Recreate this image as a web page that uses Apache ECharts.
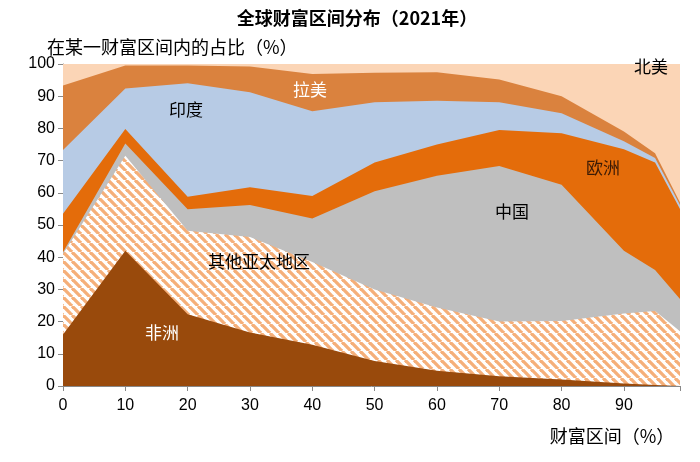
<!DOCTYPE html>
<html><head><meta charset="utf-8">
<script src="https://cdn.jsdelivr.net/npm/echarts@6/dist/echarts.min.js"></script>
<style>html,body{margin:0;padding:0;background:#fff}#c{width:700px;height:462px}</style>
</head><body><div id="c"></div>
<script>
// wealth percentile (x) and each region's share (%) of people in that band
const xs = [0, 10, 20, 30, 40, 50, 60, 70, 80, 90, 95, 99];
const africa   = [16, 42, 22.3, 16.6, 12.8, 7.8, 4.7, 3, 2, 0.8, 0.3, 0.2];
const otherAP  = [25, 29.5, 25.9, 29.7, 25.7, 22.2, 19.7, 17, 18.2, 21.7, 23, 16.8];
const china    = [0.5, 3.8, 6.7, 9.9, 13.5, 30.5, 40.9, 48.3, 42.3, 19.5, 12.7, 10];
const europe   = [12, 4.5, 3.9, 5.5, 7, 8.9, 9.7, 11.2, 16, 31.5, 33.4, 28];
const india    = [19.8, 12.6, 35.2, 29.5, 26.3, 18.7, 13.6, 8.6, 6.2, 2.5, 1.4, 1.2];
const latam    = [20, 7.1, 5.5, 8, 11.6, 9.2, 8.8, 7.1, 5.3, 3, 1.5, 0.8];
const namerica = [6.7, 0.5, 0.5, 0.8, 3.1, 2.7, 2.6, 4.8, 10, 21, 27.7, 43];
const yTicks = [0, 10, 20, 30, 40, 50, 60, 70, 80, 90, 100];
const xTicks = [0, 10, 20, 30, 40, 50, 60, 70, 80, 90];

const names = ['非洲','其他亚太地区','中国','欧洲','印度','拉美','北美'];
const values = [africa, otherAP, china, europe, india, latam, namerica];

// hatch pattern
const P = 9;
const pat = document.createElement('canvas');
pat.width = P; pat.height = P;
const g = pat.getContext('2d');
g.fillStyle = '#ffffff'; g.fillRect(0,0,P,P);
g.strokeStyle = '#F5AF79'; g.lineWidth = 3.3;
for (const k of [-P, 0, P]) { g.beginPath(); g.moveTo(k, 0); g.lineTo(k + P, P); g.stroke(); }

const colors = ['#994A0C', {image: pat, repeat: 'repeat'}, '#BFBFBF', '#E46C0A', '#B7CBE5', '#DA823E', '#FBD5B6'];

const CJK = '"Noto Sans CJK SC", "Liberation Sans", sans-serif';
const NUM = '"Liberation Sans", Arial, sans-serif';

// cumulative tops, drawn from the top layer down so lower layers paint over
const cum = [];
values.forEach((arr, i) => {
  cum.push(arr.map((v, j) => (i ? cum[i - 1][j] : 0) + v));
});
const series = [];
for (let i = names.length - 1; i >= 0; i--) {
  series.push({
    name: names[i], type: 'line', symbol: 'none', smooth: false,
    lineStyle: {width: 0}, areaStyle: {color: colors[i], opacity: 1, origin: 'start'},
    data: xs.map((x, j) => [x, Math.min(100, cum[i][j])]),
    z: 2
  });
}

const chart = echarts.init(document.getElementById('c'), null, {renderer: 'canvas'});
function txt(text, x, y, opts) {
  return Object.assign({type: 'text', x: x, y: y, z: 100,
    style: Object.assign({text: text, font: '17px ' + CJK, fill: '#000', align: 'center', verticalAlign: 'middle'}, opts || {})});
}
chart.setOption({
  animation: false,
  grid: {left: 63, right: 20, top: 64, bottom: 76},
  xAxis: {type: 'value', min: 0, max: 99, interval: 10,
    axisLine: {onZero: false, lineStyle: {color: '#888', width: 1}},
    axisTick: {show: true, length: 5, lineStyle: {color: '#888'}},
    axisLabel: {color: '#000', fontSize: 16, fontFamily: NUM, margin: 12,
      formatter: v => xTicks.includes(v) ? String(v) : ''},
    splitLine: {show: false}},
  yAxis: {type: 'value', min: 0, max: 100, interval: 10,
    axisLine: {show: true, onZero: false, lineStyle: {color: '#888', width: 1}},
    axisTick: {show: true, length: 5, lineStyle: {color: '#888'}},
    axisLabel: {color: '#000', fontSize: 16, fontFamily: NUM, margin: 8,
      formatter: v => yTicks.includes(v) ? String(v) : ''},
    splitLine: {show: false}},
  series: series,
  graphic: [
    txt('全球财富区间分布（2021年）', 357, 18, {font: 'bold 18px ' + CJK}),
    txt('在某一财富区间内的占比（%）', 47, 47, {font: '18px ' + CJK, align: 'left'}),
    txt('财富区间（%）', 612, 436, {font: '18px ' + CJK}),
    txt('印度', 186, 110),
    txt('拉美', 310, 90, {fill: '#fff'}),
    txt('北美', 651, 67),
    txt('欧洲', 603, 168, {fill: '#3a1a05'}),
    txt('中国', 512, 212),
    txt('其他亚太地区', 259, 262),
    txt('非洲', 162, 333, {fill: '#fff'})
  ]
});
</script></body></html>
